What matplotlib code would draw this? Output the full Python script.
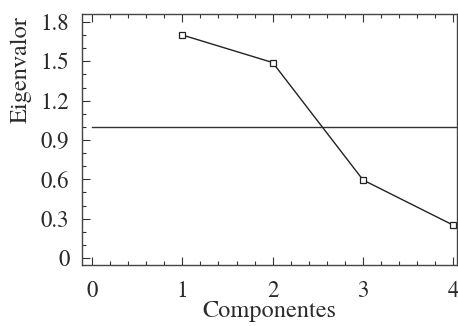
import matplotlib
matplotlib.use("Agg")
import matplotlib.pyplot as plt
from matplotlib.ticker import MultipleLocator

componentes = [1, 2, 3, 4]
eigenvalor = [1.70, 1.49, 0.595, 0.25]
umbral = 1.0
x_ticks = [0, 1, 2, 3, 4]
y_ticks = [0, 0.3, 0.6, 0.9, 1.2, 1.5, 1.8]
y_ticklabels = ["0", "0.3", "0.6", "0.9", "1.2", "1.5", "1.8"]

plt.rcParams['font.family'] = ['TeX Gyre Termes', 'Liberation Serif', 'DejaVu Serif']

fig = plt.figure(figsize=(4.58, 3.26), dpi=100)
ax = fig.add_axes([0.179, 0.187, 0.819, 0.770])

ax.plot([0, 4.04], [umbral, umbral], color="#333333", lw=1.0)
ax.plot(componentes, eigenvalor, color="#222222", lw=1.0, marker="s",
        markersize=4, markerfacecolor="white", markeredgecolor="#222222",
        markeredgewidth=0.9, clip_on=False)

ax.set_xlim(-0.11, 4.04)
ax.set_ylim(-0.053, 1.86)
ax.set_xticks(x_ticks)
ax.set_yticks(y_ticks)
ax.set_yticklabels(y_ticklabels)
ax.xaxis.set_minor_locator(MultipleLocator(0.2))
ax.yaxis.set_minor_locator(MultipleLocator(0.1))
ax.tick_params(which="both", direction="in", top=True, right=False,
               labelsize=16.5, colors="#333333", labelcolor="#2a2a2a")
ax.tick_params(which="major", length=6, width=0.8)
ax.tick_params(which="minor", length=3, width=0.8)
ax.tick_params(axis="x", which="major", pad=11)
ax.tick_params(axis="y", which="major", pad=9)
for s in ax.spines.values():
    s.set_color("#444444")
    s.set_linewidth(1.0)

ax.set_xlabel("Componentes", fontsize=17.5, color="#2a2a2a", labelpad=-1)
ax.set_ylabel("Eigenvalor", fontsize=17.5, color="#2a2a2a")
ax.yaxis.set_label_coords(-0.135, 0.78)

fig.savefig("out.png", dpi=100)
